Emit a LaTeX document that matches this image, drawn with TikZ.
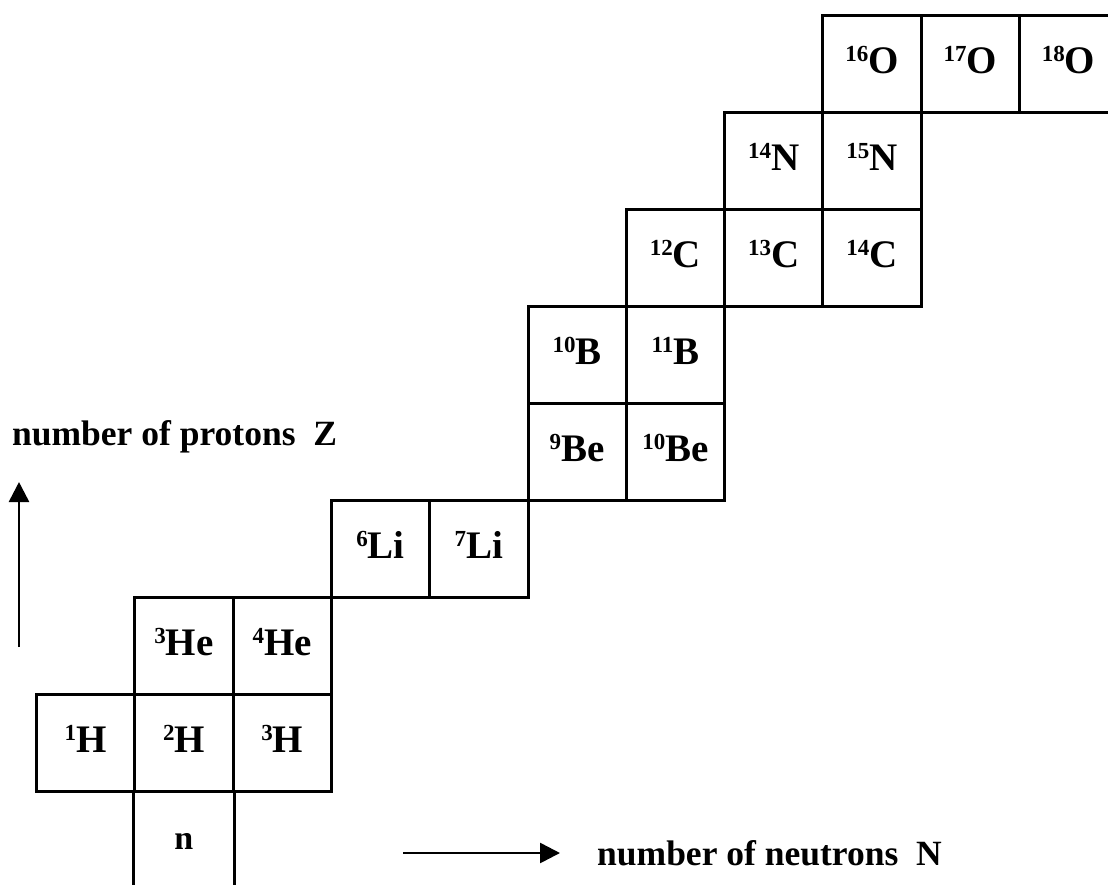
\documentclass[tikz,border=0pt]{standalone}
\usepackage{fontspec}
\setmainfont{Liberation Serif}
\usetikzlibrary{arrows.meta}
\newcommand{\iso}[2]{\raisebox{12pt}{\fontsize{23}{23}\selectfont #1}#2}
\begin{document}
\begin{tikzpicture}[x=1pt,y=-1pt,
  cell/.style={draw, line width=3pt, minimum width=98.3pt, minimum height=97pt,
    inner sep=0pt, anchor=north west, text height=28pt, text depth=10pt,
    font=\bfseries\fontsize{39}{42}\selectfont},
  opencell/.style={cell, draw=none, font=\bfseries\fontsize{34}{40}\selectfont},
  gridline/.style={line width=3pt},
  axis/.style={line width=2.6pt, -{Triangle[width=20pt,length=20pt]}},
  axislabel/.style={font=\bfseries\fontsize{35.5}{40}\selectfont, inner sep=0pt}]
\useasboundingbox (0,0) rectangle (1108,884);
\clip (0,0) rectangle (1108,884);
% Z = 0
\node[opencell] (n) at (133.3,790) {n};
\draw[gridline] (n.north west) -- (n.south west);
\draw[gridline] (n.north east) -- (n.south east);
% Z = 1
\node[cell] (H1) at (35,693) {\iso{1}{H}};
\node[cell] (H2) at (133.3,693) {\iso{2}{H}};
\node[cell] (H3) at (231.6,693) {\iso{3}{H}};
% Z = 2
\node[cell] (He3) at (133.3,596) {\iso{3}{He}};
\node[cell] (He4) at (231.6,596) {\iso{4}{He}};
% Z = 3
\node[cell] (Li6) at (329.9,499) {\iso{6}{Li}};
\node[cell] (Li7) at (428.2,499) {\iso{7}{Li}};
% Z = 4
\node[cell] (Be9) at (526.5,402) {\iso{9}{Be}};
\node[cell] (Be10) at (624.8,402) {\iso{10}{Be}};
% Z = 5
\node[cell] (B10) at (526.5,305) {\iso{10}{B}};
\node[cell] (B11) at (624.8,305) {\iso{11}{B}};
% Z = 6
\node[cell] (C12) at (624.8,208) {\iso{12}{C}};
\node[cell] (C13) at (723.1,208) {\iso{13}{C}};
\node[cell] (C14) at (821.4,208) {\iso{14}{C}};
% Z = 7
\node[cell] (N14) at (723.1,111) {\iso{14}{N}};
\node[cell] (N15) at (821.4,111) {\iso{15}{N}};
% Z = 8
\node[cell] (O16) at (821.4,14) {\iso{16}{O}};
\node[cell] (O17) at (919.7,14) {\iso{17}{O}};
\node[cell] (O18) at (1018,14) {\iso{18}{O}};
% axes
\coordinate (zfrom) at (19,647);
\coordinate (zto) at (19,482);
\draw[axis] (zfrom) -- (zto);
\node[axislabel, anchor=west] (zlabel) at (12,437) {number of protons\ \ Z};
\coordinate (nfrom) at (403,853);
\coordinate (nto) at (560,853);
\draw[axis] (nfrom) -- (nto);
\node[axislabel, anchor=west] (nlabel) at (597,853) {number of neutrons\ \ N};
\end{tikzpicture}
\end{document}
